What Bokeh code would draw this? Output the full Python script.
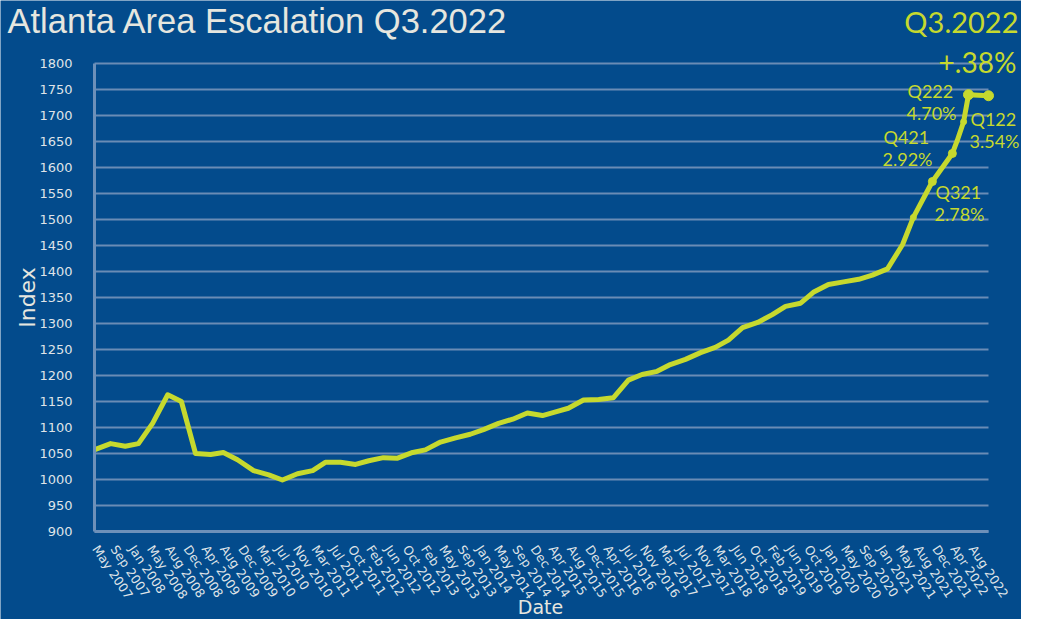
import math
import numpy as np
from bokeh.plotting import figure
from bokeh.models import Range1d, FixedTicker, Label
from bokeh.embed import file_html
from bokeh.resources import INLINE

# ---------------- data ----------------
# x: months after May 2007 at which each index value is plotted
months = [0.0, 3.1, 6.1, 8.8, 11.7, 14.8, 17.6, 20.5, 23.6, 26.2,
          29.1, 32.4, 35.5, 38.3, 41.4, 44.5, 47.1, 50.2, 53.3, 56.0,
          59.0, 61.9, 65.0, 67.6, 70.7, 73.8, 76.8, 79.5, 82.6, 85.5,
          88.5, 91.6, 94.3, 96.9, 100.0, 103.1, 106.1, 109.2, 112.0, 115.1,
          117.8, 120.9, 124.0, 127.0, 129.7, 132.6, 135.7, 138.7, 141.4, 144.5,
          147.1, 150.2, 153.3, 156.4, 159.2, 162.3, 165.4, 167.6, 171.5, 175.6,
          176.6, 177.9, 178.9, 183.0]
index_values = [1058, 1069, 1064, 1069, 1108, 1163, 1150, 1050, 1048, 1052,
                1038, 1017, 1009, 999, 1011, 1017, 1033, 1033, 1029, 1036,
                1042, 1041, 1052, 1057, 1072, 1080, 1087, 1096, 1108, 1116,
                1128, 1123, 1130, 1137, 1153, 1154, 1157, 1191, 1202, 1208,
                1221, 1231, 1244, 1254, 1268, 1292, 1302, 1317, 1333, 1339,
                1360, 1375, 1380, 1385, 1393, 1405, 1452, 1504, 1573, 1627,
                1652, 1688, 1740, 1738]
# points drawn with a dot (indices into the series)
dots_small = [57, 61]
dots_medium = [58, 59]
dots_large = [62, 63]

x_tick_labels = ["May 2007", "Sep 2007", "Jan 2008", "May 2008", "Aug 2008", "Dec 2008",
                 "Apr 2009", "Aug 2009", "Dec 2009", "Mar 2010", "Jul 2010", "Nov 2010",
                 "Mar 2011", "Jul 2011", "Oct 2011", "Feb 2012", "Jun 2012", "Oct 2012",
                 "Feb 2013", "May 2013", "Sep 2013", "Jan 2014", "May 2014", "Sep 2014",
                 "Dec 2014", "Apr 2015", "Aug 2015", "Dec 2015", "Apr 2016", "Jul 2016",
                 "Nov 2016", "Mar 2017", "Jul 2017", "Nov 2017", "Mar 2018", "Jun 2018",
                 "Oct 2018", "Feb 2019", "Jun 2019", "Oct 2019", "Jan 2020", "May 2020",
                 "Sep 2020", "Jan 2021", "May 2021", "Aug 2021", "Dec 2021", "Apr 2022",
                 "Aug 2022"]
y_ticks = list(range(900, 1801, 50))

quarter_notes = [("Q222", "4.70%"), ("Q122", "3.54%"), ("Q421", "2.92%"), ("Q321", "2.78%")]
headline = ("Q3.2022", "+.38%")
title_text = "Atlanta Area Escalation Q3.2022"

# ---------------- styling / geometry ----------------
BG = "#034b8c"
LINE = "#c6d92e"
GRID = "#6a8cb5"
AXIS = "#6d90b9"
TICK_TXT = "#dfe3e8"
TITLE_TXT = "#e6e6df"

W, H = 1021, 619
PLOT_L, PLOT_R, PLOT_T, PLOT_B = 94, 988, 63, 531   # plot area in pixels
X0_PX = 95                                         # pixel of first data month
X_MIN, X_MAX = 0.0, 183.0
Y_MIN, Y_MAX = 900, 1800
PX_PER_MONTH = (PLOT_R - X0_PX) / (X_MAX - X_MIN)
PX_PER_UNIT = (PLOT_B - PLOT_T) / (Y_MAX - Y_MIN)


def dx(px):
    return X_MIN + (px - X0_PX) / PX_PER_MONTH


def dy(py):
    return Y_MAX - (py - PLOT_T) / PX_PER_UNIT


p = figure(width=W, height=H, output_backend="svg", toolbar_location=None,
           x_range=Range1d(dx(0), dx(W)), y_range=Range1d(dy(H), dy(0)),
           min_border=0, background_fill_color=BG, border_fill_color=BG,
           outline_line_color=None)

# axes drawn at fixed positions inside the canvas
x_left = dx(PLOT_L)
tick_pos = [round(float(t), 4) for t in np.linspace(0.0, 179.6, len(x_tick_labels))]
xa = p.xaxis[0]
ya = p.yaxis[0]
xa.ticker = FixedTicker(ticks=tick_pos)
xa.major_label_overrides = {t: lab for t, lab in zip(tick_pos, x_tick_labels)}
xa.major_label_orientation = -math.radians(56)
xa.major_label_standoff = 9
xa.fixed_location = Y_MIN
xa.bounds = (x_left, X_MAX)
ya.ticker = FixedTicker(ticks=y_ticks)
ya.major_label_standoff = 16
ya.fixed_location = x_left
ya.bounds = (Y_MIN, Y_MAX)
for ax in (xa, ya):
    ax.axis_line_color = AXIS
    ax.axis_line_width = 3
    ax.major_tick_line_color = None
    ax.minor_tick_line_color = None
    ax.major_label_text_color = TICK_TXT
    ax.major_label_text_font = "DejaVu Sans"
xa.major_label_text_font_size = "12.5px"
ya.major_label_text_font_size = "13px"

p.xgrid.visible = False
p.ygrid.visible = False
# horizontal grid lines across the plot area
p.segment(x0=[x_left] * len(y_ticks), x1=[X_MAX] * len(y_ticks), y0=y_ticks, y1=y_ticks,
          line_color=GRID, line_width=2)

# series
p.line(months, index_values, line_color=LINE, line_width=5, line_join="round", line_cap="round")
for idxs, sz in ((dots_small, 6), (dots_medium, 8), (dots_large, 10)):
    p.scatter([months[i] for i in idxs], [index_values[i] for i in idxs],
              size=sz, fill_color=LINE, line_color=LINE)

BASELINE_FIX = 0.42   # measured shift of the rendered alphabetic baseline, in em


def add_label(text, px, py, size, font="Lato", align="left", color=LINE, angle=0.0,
              baseline="alphabetic"):
    if baseline == "alphabetic":
        py = py - BASELINE_FIX * size
    p.add_layout(Label(x=dx(px), y=dy(py), text=text, text_font=font,
                       text_font_size=f"{size}px", text_color=color, text_align=align,
                       text_baseline=baseline, angle=angle))


# title and axis titles
add_label(title_text, 7, 1, 34.5, font="Liberation Sans", color=TITLE_TXT, baseline="top")
add_label("Index", 27, 297, 22, font="DejaVu Sans", align="center", color=TITLE_TXT,
          angle=math.pi / 2, baseline="middle")
add_label("Date", 540, 614, 19, font="DejaVu Sans", align="center", color=TITLE_TXT)

# headline
add_label(headline[0], 1018, 33, 29, align="right")
add_label(headline[1], 977, 73, 28, align="center")

# quarter notes
note_pos = [(907, 98), (970, 126), (883, 144), (935, 199)]
for (q, pct), (px, py) in zip(quarter_notes, note_pos):
    add_label(q, px, py, 18)
    add_label(pct, px - 1, py + 22, 18)

open("out.html", "w").write(file_html(p, INLINE))
